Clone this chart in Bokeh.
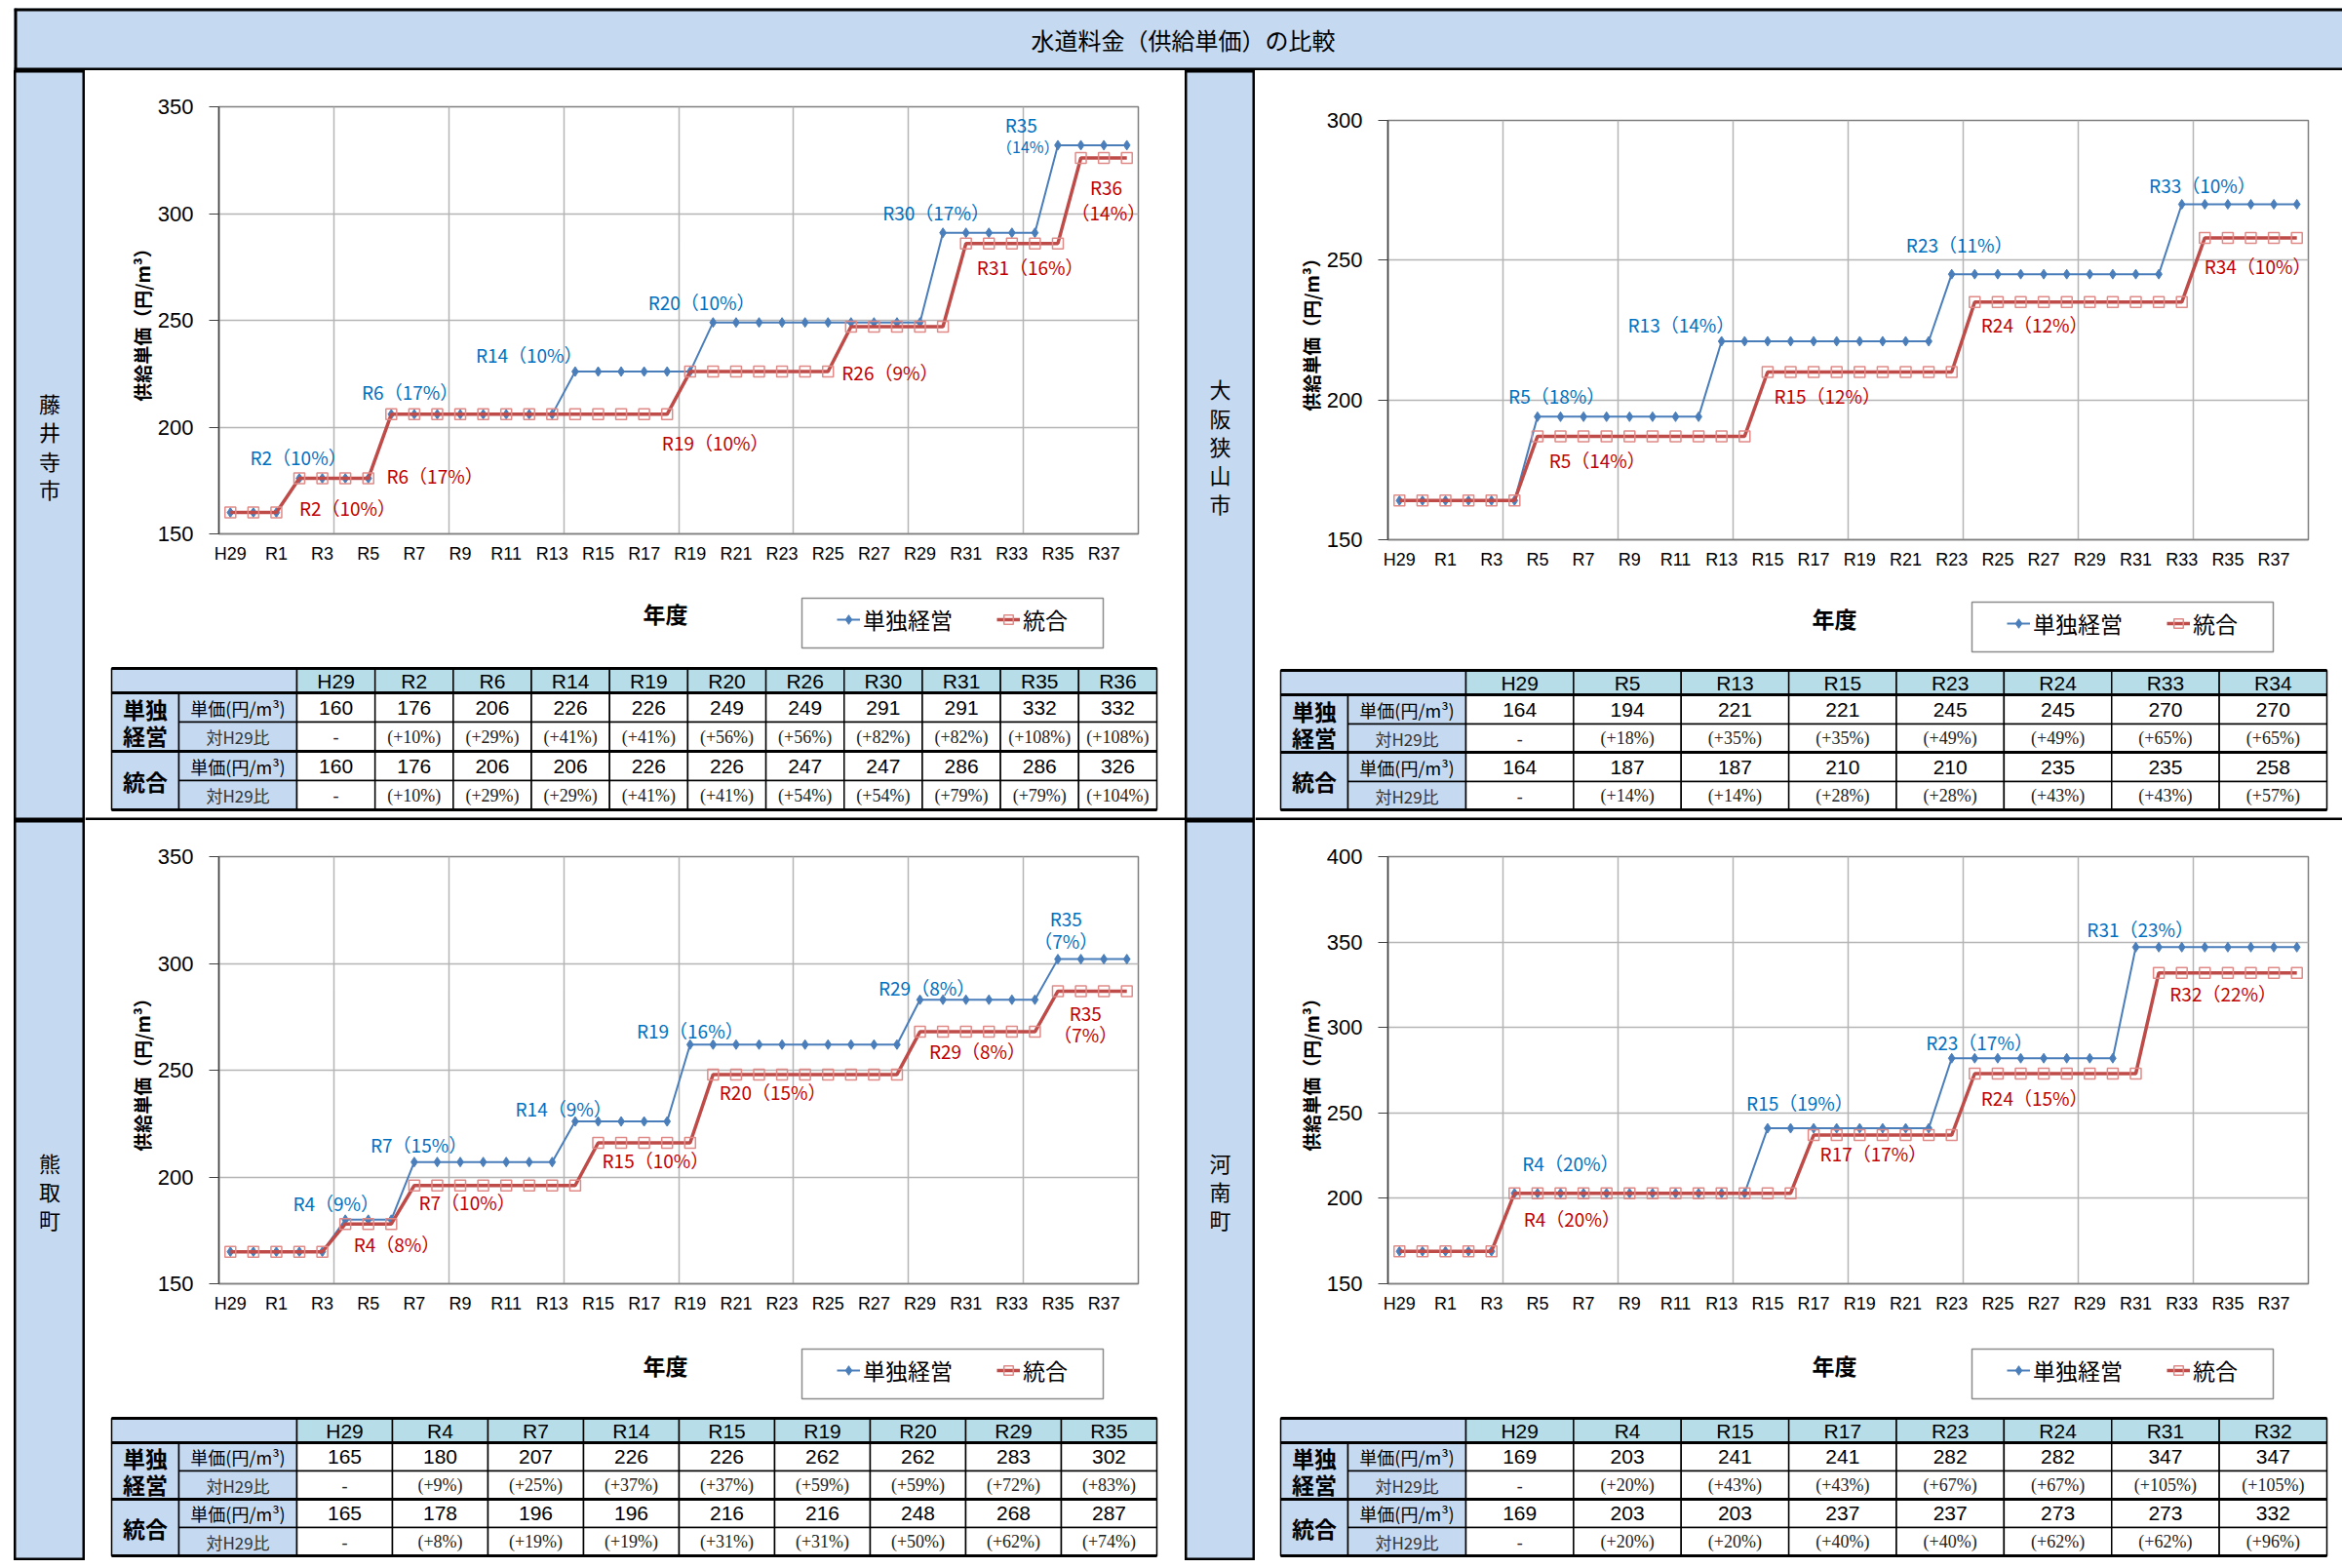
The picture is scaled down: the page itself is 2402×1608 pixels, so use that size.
from bokeh.plotting import figure
from bokeh.layouts import column, row
from bokeh.models import (Range1d, FixedTicker, Legend, LegendItem, Spacer,
                          ColumnDataSource, LabelSet)
from bokeh.core.properties import value
from bokeh.embed import file_html
from bokeh.resources import INLINE

JP = "Noto Sans CJK JP"
LAT = "Liberation Sans"
SER = "Liberation Serif"
BLUE_LINE = "#4A7EBB"
RED_LINE = "#BE4B48"
RED_MARK = "#E08A88"
BLUE_TXT = "#0070C0"
RED_TXT = "#C00000"
HDR_BG = "#C5D9F1"
TBL_HDR = "#B7DEE8"

# ---------------- data ----------------
years = ["H29", "H30", "R1", "R2", "R3", "R4", "R5", "R6", "R7", "R8", "R9", "R10",
         "R11", "R12", "R13", "R14", "R15", "R16", "R17", "R18", "R19", "R20",
         "R21", "R22", "R23", "R24", "R25", "R26", "R27", "R28", "R29", "R30",
         "R31", "R32", "R33", "R34", "R35", "R36", "R37", "R38"]

series_names = ["単独経営", "統合"]

fujiidera_single = [160, 160, 160, 176, 176, 176, 176, 206, 206, 206, 206, 206, 206, 206, 206,
                    226, 226, 226, 226, 226, 226, 249, 249, 249, 249, 249, 249, 249, 249, 249, 249,
                    291, 291, 291, 291, 291, 332, 332, 332, 332]
fujiidera_merged = [160, 160, 160, 176, 176, 176, 176, 206, 206, 206, 206, 206, 206, 206, 206,
                    206, 206, 206, 206, 206, 226, 226, 226, 226, 226, 226, 226, 247, 247, 247, 247,
                    247, 286, 286, 286, 286, 286, 326, 326, 326]
osakasayama_single = [164, 164, 164, 164, 164, 164, 194, 194, 194, 194, 194, 194, 194, 194,
                      221, 221, 221, 221, 221, 221, 221, 221, 221, 221, 245, 245, 245, 245, 245,
                      245, 245, 245, 245, 245, 270, 270, 270, 270, 270, 270]
osakasayama_merged = [164, 164, 164, 164, 164, 164, 187, 187, 187, 187, 187, 187, 187, 187,
                      187, 187, 210, 210, 210, 210, 210, 210, 210, 210, 210, 235, 235, 235, 235,
                      235, 235, 235, 235, 235, 235, 258, 258, 258, 258, 258]
kumatori_single = [165, 165, 165, 165, 165, 180, 180, 180, 207, 207, 207, 207, 207, 207, 207,
                   226, 226, 226, 226, 226, 262, 262, 262, 262, 262, 262, 262, 262, 262, 262,
                   283, 283, 283, 283, 283, 283, 302, 302, 302, 302]
kumatori_merged = [165, 165, 165, 165, 165, 178, 178, 178, 196, 196, 196, 196, 196, 196, 196,
                   196, 216, 216, 216, 216, 216, 248, 248, 248, 248, 248, 248, 248, 248, 248,
                   268, 268, 268, 268, 268, 268, 287, 287, 287, 287]
kanan_single = [169, 169, 169, 169, 169, 203, 203, 203, 203, 203, 203, 203, 203, 203, 203, 203,
                241, 241, 241, 241, 241, 241, 241, 241, 282, 282, 282, 282, 282, 282, 282, 282,
                347, 347, 347, 347, 347, 347, 347, 347]
kanan_merged = [169, 169, 169, 169, 169, 203, 203, 203, 203, 203, 203, 203, 203, 203, 203, 203,
                203, 203, 237, 237, 237, 237, 237, 237, 237, 273, 273, 273, 273, 273, 273, 273,
                273, 332, 332, 332, 332, 332, 332, 332]

# table data
fujiidera_tbl_years = ["H29", "R2", "R6", "R14", "R19", "R20", "R26", "R30", "R31", "R35", "R36"]
fujiidera_tbl_single = ["160", "176", "206", "226", "226", "249", "249", "291", "291", "332", "332"]
fujiidera_tbl_single_pct = ["-", "(+10%)", "(+29%)", "(+41%)", "(+41%)", "(+56%)", "(+56%)",
                            "(+82%)", "(+82%)", "(+108%)", "(+108%)"]
fujiidera_tbl_merged = ["160", "176", "206", "206", "226", "226", "247", "247", "286", "286", "326"]
fujiidera_tbl_merged_pct = ["-", "(+10%)", "(+29%)", "(+29%)", "(+41%)", "(+41%)", "(+54%)",
                            "(+54%)", "(+79%)", "(+79%)", "(+104%)"]

osakasayama_tbl_years = ["H29", "R5", "R13", "R15", "R23", "R24", "R33", "R34"]
osakasayama_tbl_single = ["164", "194", "221", "221", "245", "245", "270", "270"]
osakasayama_tbl_single_pct = ["-", "(+18%)", "(+35%)", "(+35%)", "(+49%)", "(+49%)", "(+65%)", "(+65%)"]
osakasayama_tbl_merged = ["164", "187", "187", "210", "210", "235", "235", "258"]
osakasayama_tbl_merged_pct = ["-", "(+14%)", "(+14%)", "(+28%)", "(+28%)", "(+43%)", "(+43%)", "(+57%)"]

kumatori_tbl_years = ["H29", "R4", "R7", "R14", "R15", "R19", "R20", "R29", "R35"]
kumatori_tbl_single = ["165", "180", "207", "226", "226", "262", "262", "283", "302"]
kumatori_tbl_single_pct = ["-", "(+9%)", "(+25%)", "(+37%)", "(+37%)", "(+59%)", "(+59%)", "(+72%)", "(+83%)"]
kumatori_tbl_merged = ["165", "178", "196", "196", "216", "216", "248", "268", "287"]
kumatori_tbl_merged_pct = ["-", "(+8%)", "(+19%)", "(+19%)", "(+31%)", "(+31%)", "(+50%)", "(+62%)", "(+74%)"]

kanan_tbl_years = ["H29", "R4", "R15", "R17", "R23", "R24", "R31", "R32"]
kanan_tbl_single = ["169", "203", "241", "241", "282", "282", "347", "347"]
kanan_tbl_single_pct = ["-", "(+20%)", "(+43%)", "(+43%)", "(+67%)", "(+67%)", "(+105%)", "(+105%)"]
kanan_tbl_merged = ["169", "203", "203", "237", "237", "273", "273", "332"]
kanan_tbl_merged_pct = ["-", "(+20%)", "(+20%)", "(+40%)", "(+40%)", "(+62%)", "(+62%)", "(+96%)"]

# data-label annotations: (text, x position on category axis, y value, series, font px)
fujiidera_labels = [
    ("R2（10%）", 3.46, 186.2, "s", 19), ("R6（17%）", 8.32, 216.6, "s", 19),
    ("R14（10%）", 13.5, 234.1, "s", 19), ("R20（10%）", 21.0, 258.9, "s", 19),
    ("R30（17%）", 31.2, 300.7, "s", 19), ("R35", 34.9, 341.6, "s", 19),
    ("（14%）", 35.2, 331.4, "s", 16),
    ("R2（10%）", 5.6, 162.2, "m", 19), ("R6（17%）", 9.4, 177.4, "m", 19),
    ("R19（10%）", 21.6, 192.9, "m", 19), ("R26（9%）", 29.2, 225.7, "m", 19),
    ("R31（16%）", 35.3, 274.9, "m", 19), ("R36", 38.6, 312.7, "m", 19),
    ("（14%）", 38.7, 300.6, "m", 19),
]
osakasayama_labels = [
    ("R5（18%）", 7.34, 201.8, "s", 19), ("R13（14%）", 12.75, 227.0, "s", 19),
    ("R23（11%）", 24.84, 255.7, "s", 19), ("R33（10%）", 35.4, 276.9, "s", 19),
    ("R5（14%）", 9.1, 178.5, "m", 19), ("R15（12%）", 19.1, 201.8, "m", 19),
    ("R24（12%）", 28.1, 227.0, "m", 19), ("R34（10%）", 37.8, 247.9, "m", 19),
]
kumatori_labels = [
    ("R4（9%）", 5.1, 187.9, "s", 19), ("R7（15%）", 8.7, 215.2, "s", 19),
    ("R14（9%）", 15.0, 232.4, "s", 19), ("R19（16%）", 20.5, 268.6, "s", 19),
    ("R29（8%）", 30.8, 288.7, "s", 19), ("R35", 36.85, 321.4, "s", 19),
    ("（7%）", 36.85, 310.6, "s", 19),
    ("R4（8%）", 7.74, 168.5, "m", 19), ("R7（10%）", 10.8, 188.3, "m", 19),
    ("R15（10%）", 19.0, 208.0, "m", 19), ("R20（15%）", 24.1, 240.0, "m", 19),
    ("R29（8%）", 33.0, 259.0, "m", 19), ("R35", 37.7, 276.8, "m", 19),
    ("（7%）", 37.7, 266.9, "m", 19),
]
kanan_labels = [
    ("R4（20%）", 7.94, 220.7, "s", 19), ("R15（19%）", 17.9, 255.9, "s", 19),
    ("R23（17%）", 25.7, 291.4, "s", 19), ("R31（23%）", 32.7, 358.0, "s", 19),
    ("R4（20%）", 8.0, 188.0, "m", 19), ("R17（17%）", 21.1, 226.4, "m", 19),
    ("R24（15%）", 28.1, 259.3, "m", 19), ("R32（22%）", 36.3, 320.0, "m", 19),
]

cities = ["藤井寺市", "大阪狭山市", "熊取町", "河南町"]
title_text = "水道料金（供給単価）の比較"
x_title = "年度"
y_title = "供給単価（円/m³）"


# ---------------- builders ----------------
def base_fig(w, h, xr, yr, **kw):
    p = figure(width=w, height=h, title=None, x_range=xr, y_range=yr,
               output_backend="svg", toolbar_location=None, **kw)
    p.frame_align = False
    return p


def make_chart(w, h, ml, mr, mt, mb, ymax, single, merged, labels):
    n = len(years)
    p = base_fig(w, h, Range1d(0, n), Range1d(150, ymax),
                 min_border_left=ml, min_border_right=mr, min_border_top=mt, min_border_bottom=mb)
    p.background_fill_color = "white"
    p.border_fill_color = "white"
    p.outline_line_color = "#7F7F7F"
    p.outline_line_width = 1.5

    xs = [i + 0.5 for i in range(n)]
    src = ColumnDataSource(dict(x=xs, single=single, merged=merged))
    p.line("x", "single", source=src, line_color=BLUE_LINE, line_width=2)
    p.scatter("x", "single", source=src, marker="diamond", size=10,
              fill_color=BLUE_LINE, line_color=BLUE_LINE)
    p.line("x", "merged", source=src, line_color=RED_LINE, line_width=3.5)
    p.scatter("x", "merged", source=src, marker="square", size=11,
              fill_color=None, line_color=RED_MARK, line_width=1.5)

    yt = list(range(150, ymax + 1, 50))
    p.yaxis.ticker = FixedTicker(ticks=yt)
    p.ygrid.ticker = FixedTicker(ticks=yt)
    lab_idx = list(range(0, n, 2))
    p.xaxis.ticker = FixedTicker(ticks=[xs[i] for i in lab_idx])
    p.xaxis.major_label_overrides = {xs[i]: years[i] for i in lab_idx}
    p.xgrid.ticker = FixedTicker(ticks=list(range(0, n + 1, 5)))
    p.grid.grid_line_color = "#B5B5B5"
    p.grid.grid_line_width = 1.5

    p.xaxis.major_tick_line_color = None
    p.xaxis.minor_tick_line_color = None
    p.xaxis.major_tick_out = 0
    p.xaxis.major_tick_in = 0
    p.xaxis.major_label_standoff = 10
    p.xaxis.axis_line_color = "#7F7F7F"
    p.xaxis.axis_line_width = 1.5
    p.xaxis.major_label_text_font = LAT
    p.xaxis.major_label_text_font_size = "18px"
    p.xaxis.major_label_text_color = "black"

    p.yaxis.minor_tick_line_color = None
    p.yaxis.major_tick_out = 10
    p.yaxis.major_tick_in = 0
    p.yaxis.major_tick_line_color = "#404040"
    p.yaxis.axis_line_color = "#404040"
    p.yaxis.axis_line_width = 1.5
    p.yaxis.major_label_standoff = 16
    p.yaxis.major_label_text_font = LAT
    p.yaxis.major_label_text_font_size = "22px"
    p.yaxis.major_label_text_color = "black"
    p.yaxis.axis_label = y_title
    p.yaxis.axis_label_text_font = JP
    p.yaxis.axis_label_text_font_style = "bold"
    p.yaxis.axis_label_text_font_size = "19px"
    p.yaxis.axis_label_text_color = "black"
    p.yaxis.axis_label_standoff = 0

    lsrc = ColumnDataSource(dict(
        x=[l[1] for l in labels], y=[l[2] for l in labels], text=[l[0] for l in labels],
        color=[BLUE_TXT if l[3] == "s" else RED_TXT for l in labels],
        size=["%dpx" % l[4] for l in labels]))
    p.add_layout(LabelSet(x="x", y="y", text="text", source=lsrc, text_align="center",
                          text_baseline="middle", text_color="color", text_font_size="size",
                          text_font=value(JP)))
    return p


def make_lower(fw, fh, px0, py0, geom, xlab_pos, leg_box, heads, sv, sp, mv, mp, bottom_line=False):
    """Area under a chart: x-axis title, legend and the summary table (page-pixel coords)."""
    L, c1, c2, R, rows = geom
    p = base_fig(fw, fh, Range1d(px0, px0 + fw), Range1d(py0 + fh, py0),
                 x_axis_type=None, y_axis_type=None, min_border=0)
    p.outline_line_color = None
    p.background_fill_color = "white"
    p.border_fill_color = "white"

    # x-axis title
    p.text(x=[xlab_pos[0]], y=[xlab_pos[1]], text=[x_title], text_align="center",
           text_baseline="middle", text_font=value(JP), text_font_size="23px",
           text_font_style="bold", text_color="black")

    # legend frame
    bx0, by0, bx1, by1 = leg_box
    p.quad(left=[bx0], right=[bx1], top=[by0], bottom=[by1], fill_color="white",
           line_color="#8C8C8C", line_width=1.5)
    # legend swatch renderers (a single empty point: nothing is drawn in the plot area)
    nan = float("nan")
    bl = p.line(x=[nan], y=[nan], line_color=BLUE_LINE, line_width=2)
    bm = p.scatter(x=[nan], y=[nan], marker="diamond", size=10,
                   fill_color=BLUE_LINE, line_color=BLUE_LINE)
    rl = p.line(x=[nan], y=[nan], line_color=RED_LINE, line_width=3.5)
    rm = p.scatter(x=[nan], y=[nan], marker="square", size=11,
                   fill_color=None, line_color=RED_MARK, line_width=1.5)
    item_h = 26
    cy = (by0 + by1) / 2
    leg = Legend(items=[LegendItem(label=series_names[0], renderers=[bl, bm]),
                        LegendItem(label=series_names[1], renderers=[rl, rm])],
                 orientation="horizontal",
                 location=(bx0 + 36 - px0, py0 + fh - (cy + item_h / 2)))
    leg.label_text_font = JP
    leg.label_text_font_size = "23px"
    leg.label_text_color = "black"
    leg.glyph_width = 24
    leg.glyph_height = item_h
    leg.label_height = item_h
    leg.label_standoff = 3
    leg.spacing = 37
    leg.padding = 0
    leg.label_width = 100
    leg.margin = 0
    leg.border_line_color = None
    leg.background_fill_alpha = 0
    p.add_layout(leg)

    # table
    ncol = len(heads)
    cw = (R - c2) / ncol
    lefts, rights, tops, bots, fills = [], [], [], [], []

    def cell(a, b, t, u, f):
        lefts.append(a); rights.append(b); tops.append(t); bots.append(u); fills.append(f)

    cell(L, c2, rows[0], rows[1], HDR_BG)
    cell(L, c1, rows[1], rows[3], HDR_BG)
    cell(L, c1, rows[3], rows[5], HDR_BG)
    for r in range(1, 5):
        cell(c1, c2, rows[r], rows[r + 1], HDR_BG)
    for j in range(ncol):
        cell(c2 + j * cw, c2 + (j + 1) * cw, rows[0], rows[1], TBL_HDR)
        for r in range(1, 5):
            cell(c2 + j * cw, c2 + (j + 1) * cw, rows[r], rows[r + 1], "white")
    p.quad(left=lefts, right=rights, top=tops, bottom=bots, fill_color=fills,
           line_color="black", line_width=1.5)
    thick = [rows[0], rows[1], rows[3], rows[5]]
    p.segment(x0=[L] * 4, x1=[R] * 4, y0=thick, y1=thick, line_color="black", line_width=3)

    cx = [c2 + (j + 0.5) * cw for j in range(ncol)]
    ym = [(rows[r] + rows[r + 1]) / 2 for r in range(5)]
    p.text(x=cx, y=[ym[0]] * ncol, text=heads, text_align="center", text_baseline="middle",
           text_font=value(LAT), text_font_size="21px", text_color="black")
    p.text(x=cx * 2, y=[ym[1]] * ncol + [ym[3]] * ncol, text=list(sv) + list(mv),
           text_align="center", text_baseline="middle", text_font=value(LAT),
           text_font_size="21px", text_color="black")
    p.text(x=cx * 2, y=[ym[2]] * ncol + [ym[4]] * ncol, text=list(sp) + list(mp),
           text_align="center", text_baseline="middle", text_font=value(SER),
           text_font_size="18px", text_color="#222222")
    gx = (L + c1) / 2
    p.text(x=[gx, gx], y=[rows[2], (rows[3] + rows[5]) / 2], text=["単独\n経営", "統合"],
           text_align="center", text_baseline="middle", text_font=value(JP),
           text_font_size="23px", text_font_style="bold", text_color="black",
           text_line_height=0.82)
    sx = (c1 + c2) / 2
    p.text(x=[sx, sx], y=[ym[1], ym[3]], text=["単価(円/m³)", "単価(円/m³)"],
           text_align="center", text_baseline="middle", text_font=value(JP),
           text_font_size="18px", text_color="black")
    p.text(x=[sx, sx], y=[ym[2], ym[4]], text=["対H29比", "対H29比"],
           text_align="center", text_baseline="middle", text_font=value(JP),
           text_font_size="17px", text_color="#333333")
    if bottom_line:
        p.segment(x0=[px0], x1=[px0 + fw], y0=[py0 + fh - 1], y1=[py0 + fh - 1],
                  line_color="black", line_width=4)
    return p


def make_city(name, w, h):
    p = base_fig(w, h, Range1d(0, 1), Range1d(0, 1), x_axis_type=None, y_axis_type=None,
                 min_border=0)
    p.background_fill_color = HDR_BG
    p.border_fill_color = HDR_BG
    p.outline_line_color = "black"
    p.outline_line_width = 4
    p.text(x=[0.5], y=[0.5], text=["\n".join(name)], text_align="center",
           text_baseline="middle", text_font=value(JP), text_font_size="22px",
           text_color="black", text_line_height=0.92)
    return p


# ---------------- layout (page pixels) ----------------
X0, Y0 = 14, 8
W_CL, W_PL, W_CR, W_PR = 73, 1128, 72, 1115
H_HEAD, H_TOP, H_BOT = 64, 769, 759
H_CHART = 518
W_ALL = W_CL + W_PL + W_CR + W_PR

head = base_fig(W_ALL, H_HEAD, Range1d(X0, X0 + W_ALL), Range1d(0, H_HEAD),
                x_axis_type=None, y_axis_type=None, min_border=0)
head.background_fill_color = HDR_BG
head.border_fill_color = HDR_BG
head.outline_line_color = None
head.segment(x0=[X0, X0, X0 + 1], x1=[X0 + W_ALL, X0 + W_ALL, X0 + 1],
             y0=[H_HEAD - 1, 1, 0], y1=[H_HEAD - 1, 1, H_HEAD],
             line_color="black", line_width=4)
head.text(x=[1213], y=[H_HEAD / 2], text=[title_text], text_align="center", text_baseline="middle",
          text_font=value(JP), text_font_size="24px", text_color="black")

geomL_top = (114, 183, 304, 1186, [685, 710, 740, 770, 800, 830])
geomR_top = (1313, 1382, 1503, 2386, [687, 712, 742, 771, 801, 830])
geomL_bot = (114, 183, 304, 1186, [1454, 1479, 1508, 1537, 1566, 1595])
geomR_bot = (1313, 1382, 1503, 2386, [1454, 1479, 1508, 1537, 1566, 1595])

tl = make_chart(W_PL, H_CHART, 137, 48, 37, 43, 350, fujiidera_single, fujiidera_merged,
                fujiidera_labels)
tr = make_chart(W_PR, H_CHART, 136, 35, 51, 37, 300, osakasayama_single, osakasayama_merged,
                osakasayama_labels)
bl = make_chart(W_PL, H_CHART, 137, 48, 37, 43, 350, kumatori_single, kumatori_merged,
                kumatori_labels)
br = make_chart(W_PR, H_CHART, 136, 35, 37, 43, 400, kanan_single, kanan_merged,
                kanan_labels)

top_y = Y0 + H_HEAD
bot_y = top_y + H_TOP
ttl = make_lower(W_PL, H_TOP - H_CHART, 87, top_y + H_CHART, geomL_top, (682, 628),
                 (822, 613, 1131, 664),
                 fujiidera_tbl_years, fujiidera_tbl_single, fujiidera_tbl_single_pct,
                 fujiidera_tbl_merged, fujiidera_tbl_merged_pct, bottom_line=True)
ttr = make_lower(W_PR, H_TOP - H_CHART, 1287, top_y + H_CHART, geomR_top, (1881, 633),
                 (2022, 617, 2331, 668),
                 osakasayama_tbl_years, osakasayama_tbl_single, osakasayama_tbl_single_pct,
                 osakasayama_tbl_merged, osakasayama_tbl_merged_pct, bottom_line=True)
tbl = make_lower(W_PL, H_BOT - H_CHART, 87, bot_y + H_CHART, geomL_bot, (682, 1399),
                 (822, 1383, 1131, 1434),
                 kumatori_tbl_years, kumatori_tbl_single, kumatori_tbl_single_pct,
                 kumatori_tbl_merged, kumatori_tbl_merged_pct)
tbr = make_lower(W_PR, H_BOT - H_CHART, 1287, bot_y + H_CHART, geomR_bot, (1881, 1399),
                 (2022, 1383, 2331, 1434),
                 kanan_tbl_years, kanan_tbl_single, kanan_tbl_single_pct,
                 kanan_tbl_merged, kanan_tbl_merged_pct)

layout = column(
    Spacer(width=X0, height=Y0),
    row(Spacer(width=X0, height=H_HEAD), head),
    row(Spacer(width=X0, height=H_TOP), make_city(cities[0], W_CL, H_TOP), column(tl, ttl),
        make_city(cities[1], W_CR, H_TOP), column(tr, ttr)),
    row(Spacer(width=X0, height=H_BOT), make_city(cities[2], W_CL, H_BOT), column(bl, tbl),
        make_city(cities[3], W_CR, H_BOT), column(br, tbr)),
)

open("out.html", "w").write(file_html(layout, INLINE, title=title_text))
